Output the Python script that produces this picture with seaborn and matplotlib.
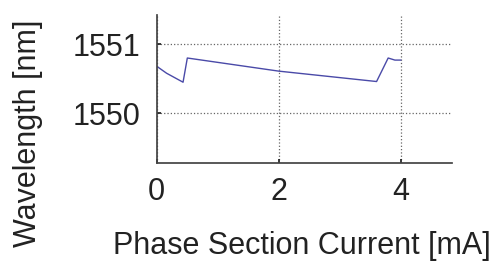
import matplotlib
import matplotlib.pyplot as plt
import pandas as pd
import seaborn as sns

matplotlib.use('Agg')

# Phase section current [mA] and lasing wavelength [nm]
current = [0.0, 0.16, 0.43, 0.50, 2.0, 3.60, 3.79, 3.90, 4.0]
wavelength = [1550.68, 1550.58, 1550.45, 1550.80, 1550.61, 1550.46, 1550.80, 1550.77, 1550.77]
x_ticks = [0, 2, 4]
y_ticks = [1550, 1551]


def main():
    df = pd.DataFrame({'current': current, 'wavelength': wavelength})

    sns.set_theme(style="ticks")
    plt.rcParams['font.family'] = ['Liberation Sans', 'DejaVu Sans']

    fig = plt.figure(figsize=(4.9, 2.61), dpi=100)
    ax = fig.add_axes([0.32, 0.375, 0.603, 0.567])
    sns.lineplot(data=df, x='current', y='wavelength', ax=ax,
                 color='#4a4aa8', linewidth=1.0)

    ax.set_xlim(0, 4.84)
    ax.set_ylim(1549.28, 1551.42)
    ax.set_xticks(x_ticks)
    ax.set_yticks(y_ticks)
    ax.tick_params(direction='in', length=3, labelsize=22, colors='#222222')
    ax.tick_params(axis='y', pad=12)
    ax.tick_params(axis='x', pad=10)
    ax.grid(True, linestyle=':', color='#666666', linewidth=0.9)
    ax.set_xlabel('Phase Section Current [mA]', fontsize=22, color='#222222')
    ax.set_ylabel('Wavelength [nm]', fontsize=22, color='#222222')
    ax.xaxis.set_label_coords(0.49, -0.46)
    ax.yaxis.set_label_coords(-0.385, 0.2)
    sns.despine(ax=ax)
    for s in ['left', 'bottom']:
        ax.spines[s].set_color('#444444')

    fig.savefig('out.png', dpi=100)
    plt.close(fig)


if __name__ == "__main__":
    main()
